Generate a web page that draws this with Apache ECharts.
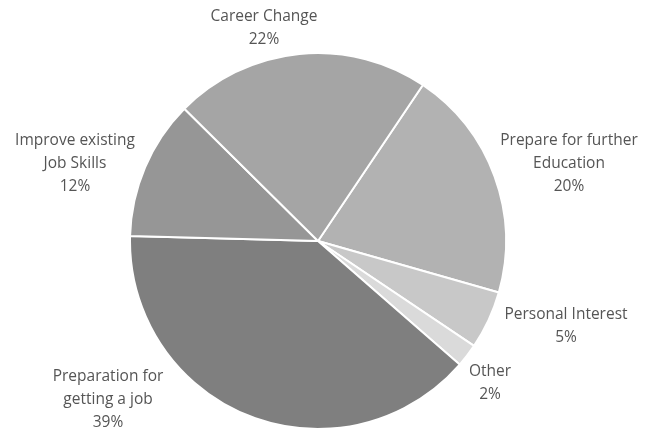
<!DOCTYPE html>
<html>
<head>
<meta charset="utf-8">
<script src="https://cdn.jsdelivr.net/npm/echarts@6/dist/echarts.min.js"></script>
<style>
html,body{margin:0;padding:0;background:#fff;}
#c{width:648px;height:432px;}
</style>
</head>
<body>
<div id="c"></div>
<script>
const categories = ["Prepare for further\nEducation", "Personal Interest", "Other", "Preparation for\ngetting a job", "Improve existing\nJob Skills", "Career Change"];
const values = [20, 5, 2, 39, 12, 22];
const colors = ["#b2b2b2", "#c8c8c8", "#dadada", "#7f7f7f", "#969696", "#a5a5a5"];
// label centre offsets from pie centre (layout styling)
const labelOffsets = [[251, -77], [248, 85], [172, 142], [-210, 159], [-243, -77], [-54, -213]];

const cx = 318, cy = 241;
const chart = echarts.init(document.getElementById('c'), null, {renderer: 'canvas'});
chart.setOption({
  animation: false,
  series: [{
    type: 'pie',
    center: [cx, cy],
    radius: 188,
    startAngle: 56.1,
    clockwise: true,
    data: categories.map((n, i) => ({name: n, value: values[i], itemStyle: {color: colors[i]}})),
    itemStyle: {borderColor: '#ffffff', borderWidth: 2},
    label: {
      show: true,
      position: 'outside',
      formatter: p => p.name + '\n' + Math.round(p.percent) + '%',
      fontFamily: 'Open Sans',
      fontSize: 15.5,
      lineHeight: 23,
      color: '#555555',
      align: 'center',
      overflow: 'none',
      width: 200
    },
    labelLine: {show: false},
    labelLayout: function (params) {
      const o = labelOffsets[params.dataIndex];
      return {x: cx + o[0], y: cy + o[1], align: 'center', verticalAlign: 'middle'};
    },
    emphasis: {disabled: true}
  }]
});
</script>
</body>
</html>
